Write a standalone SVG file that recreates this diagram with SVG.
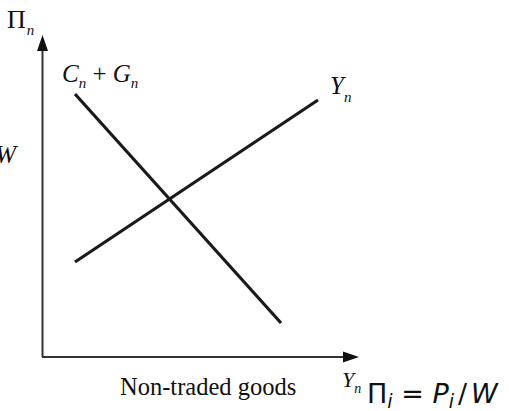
<svg xmlns="http://www.w3.org/2000/svg" width="509" height="411" viewBox="0 0 509 411">
<defs>
<style>
.ax{stroke:#333;stroke-width:2;fill:none}
.cv{stroke:#1a1a1a;stroke-width:3.2;fill:none}
.t{font-family:"Liberation Serif","Times New Roman",serif;fill:#111}
.it{font-style:italic}
.s{font-family:"DejaVu Sans",sans-serif;fill:#111}
</style>
</defs>
<g id="axes">
<path d="M42.5,357 L42.5,50" class="ax"/>
<polygon points="42.5,35 37,51 48,51" fill="#111"/>
<path d="M42,357 L345,357" class="ax"/>
<polygon points="359,357 343,351.5 343,362.5" fill="#111"/>
</g>
<g id="connectors">
<line id="cg-line" x1="75" y1="94" x2="281" y2="323" class="cv"/>
<line id="y-line" x1="75" y1="262" x2="318" y2="100" class="cv"/>
</g>
<g id="labels">
<text class="t" x="7" y="28" font-size="26">Π<tspan class="it" font-size="15" dx="1" dy="7">n</tspan></text>
<text class="t it" x="62" y="82" font-size="25">C<tspan font-size="15" dy="6">n</tspan><tspan font-style="normal" dy="-6"> + </tspan>G<tspan font-size="15" dy="6">n</tspan></text>
<text class="t it" x="330" y="94" font-size="25">Y<tspan font-size="15" dy="8">n</tspan></text>
<text class="t it" x="16" y="163" font-size="25" text-anchor="end">/W</text>
<text class="t" x="120" y="395" font-size="24.5">Non-traded goods</text>
<text class="t it" x="342" y="387" font-size="22">Y<tspan font-size="14" dy="6">n</tspan></text>
<text class="s" x="367" y="403" font-size="27">Π<tspan font-style="italic" font-size="19" dy="5">i</tspan><tspan dy="-5"> = </tspan><tspan font-style="italic">P</tspan><tspan font-style="italic" font-size="19" dy="5">i</tspan><tspan dy="-5" dx="4">/</tspan><tspan font-style="italic" dx="4">W</tspan></text>
</g>
</svg>
